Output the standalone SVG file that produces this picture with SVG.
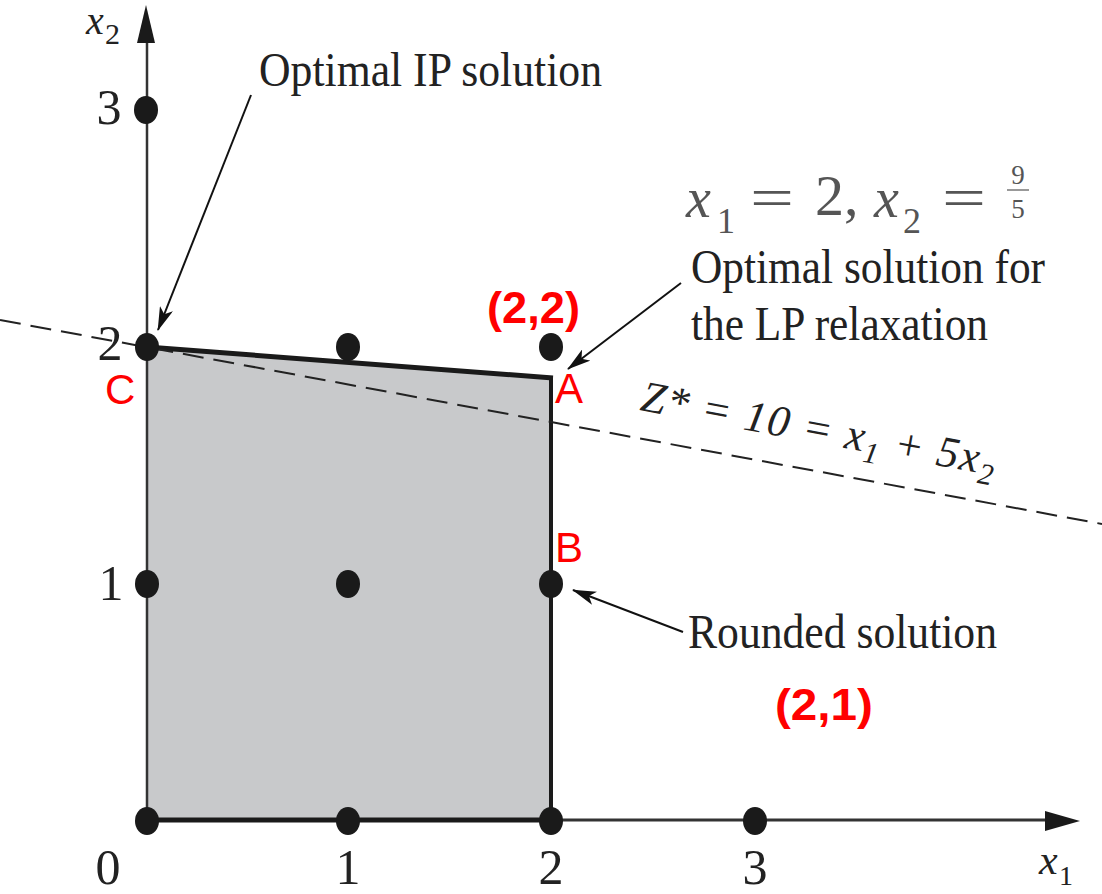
<svg xmlns="http://www.w3.org/2000/svg" width="1102" height="894" viewBox="0 0 1102 894">
<style>
.serif{font-family:"Liberation Serif","Times New Roman",serif;fill:#222}
.it{font-style:italic}
.tick{font-size:50px;text-anchor:middle}
.lbl{font-size:48px}
.gray{fill:#555}
.red{font-family:"Liberation Sans",Arial,sans-serif;fill:#ff0000;font-size:42px}
.redb{font-family:"Liberation Sans",Arial,sans-serif;fill:#ff0000;font-weight:bold;font-size:44px}
.dot{fill:#1a1a1a}
.edge{stroke:#1a1a1a;fill:none}
.arrow{stroke:#111;stroke-width:2;fill:none;marker-end:url(#ah)}
</style>
<defs>
<marker id="ah" viewBox="0 0 24 14" markerWidth="24" markerHeight="14" refX="23" refY="7" orient="auto" markerUnits="userSpaceOnUse">
<path d="M0,0 L24,7 L0,14 L6,7 Z" fill="#111"/>
</marker>
</defs>
<rect width="1102" height="894" fill="#fff"/>

<g id="feasible-region">
<polygon points="147,347 551,378 551,820 147,820" fill="#c8c9cb"/>
<line class="edge" x1="147" y1="347" x2="553" y2="378" stroke-width="5"/>
<line class="edge" x1="551" y1="376" x2="551" y2="820" stroke-width="4"/>
</g>

<g id="axes">
<line x1="147" y1="40" x2="147" y2="820" stroke="#333" stroke-width="2.5"/>
<polygon points="146,5 137,43 155,43" fill="#1a1a1a"/>
<line x1="147" y1="820" x2="1048" y2="820" stroke="#333" stroke-width="3"/>
<line x1="147" y1="820" x2="551" y2="820" stroke="#1a1a1a" stroke-width="5"/>
<polygon points="1080,821 1045,811 1045,831" fill="#1a1a1a"/>
<text class="serif it" x="86" y="34" font-size="40">x</text>
<text class="serif" x="105" y="44" font-size="30">2</text>
<text class="serif it" x="1039" y="874" font-size="42">x</text>
<text class="serif" x="1059" y="885" font-size="28">1</text>
</g>

<g id="ticks">
<text class="serif tick" x="109" y="124">3</text>
<text class="serif tick" x="110" y="360">2</text>
<text class="serif tick" x="111" y="600">1</text>
<text class="serif tick" x="108" y="884">0</text>
<text class="serif tick" x="348" y="884">1</text>
<text class="serif tick" x="551" y="884">2</text>
<text class="serif tick" x="755" y="884">3</text>
</g>

<g id="objective-line">
<line x1="0" y1="320" x2="1102" y2="524" stroke="#222" stroke-width="2" stroke-dasharray="21 10"/>
<text class="serif it" transform="translate(639,410) rotate(10.5)" font-size="44" textLength="360" lengthAdjust="spacing">Z* = 10 = x<tspan font-size="30" dy="10">1</tspan><tspan dy="-10"> + 5x</tspan><tspan font-size="30" dy="10">2</tspan></text>
</g>

<g id="lattice-points">
<ellipse class="dot" cx="146" cy="110" rx="12" ry="14"/>
<ellipse class="dot" cx="147" cy="347" rx="12" ry="14"/>
<ellipse class="dot" cx="348" cy="347" rx="12" ry="14"/>
<ellipse class="dot" cx="551" cy="347" rx="12" ry="14"/>
<ellipse class="dot" cx="147" cy="584" rx="12" ry="14"/>
<ellipse class="dot" cx="348" cy="584" rx="12" ry="14"/>
<ellipse class="dot" cx="551" cy="584" rx="12" ry="14"/>
<ellipse class="dot" cx="147" cy="821" rx="12" ry="14"/>
<ellipse class="dot" cx="348" cy="821" rx="12" ry="14"/>
<ellipse class="dot" cx="551" cy="821" rx="12" ry="14"/>
<ellipse class="dot" cx="755" cy="821" rx="12" ry="14"/>
</g>

<g id="label-ip">
<text class="serif lbl" x="259" y="86" textLength="343" lengthAdjust="spacingAndGlyphs">Optimal IP solution</text>
</g>

<g id="label-lp">
<text class="serif lbl" x="691" y="283" textLength="354" lengthAdjust="spacingAndGlyphs">Optimal solution for</text>
<text class="serif lbl" x="691" y="340" textLength="297" lengthAdjust="spacingAndGlyphs">the LP relaxation</text>
</g>

<g id="label-lp-value">
<text class="serif it gray" x="686" y="217" font-size="56">x</text>
<text class="serif gray" x="717" y="233" font-size="36">1</text>
<text class="serif gray" x="750" y="217" font-size="56" textLength="44" lengthAdjust="spacingAndGlyphs">=</text>
<text class="serif gray" x="815" y="215" font-size="58">2,</text>
<text class="serif it gray" x="874" y="217" font-size="56">x</text>
<text class="serif gray" x="903" y="233" font-size="36">2</text>
<text class="serif gray" x="942" y="217" font-size="56" textLength="44" lengthAdjust="spacingAndGlyphs">=</text>
<text class="serif gray" x="1018" y="184" font-size="27" text-anchor="middle">9</text>
<line x1="1007" y1="190" x2="1029" y2="190" stroke="#777" stroke-width="1.5"/>
<text class="serif gray" x="1018" y="218" font-size="27" text-anchor="middle">5</text>
</g>

<g id="label-rounded">
<text class="serif lbl" x="688" y="648" textLength="309" lengthAdjust="spacingAndGlyphs">Rounded solution</text>
</g>

<g id="point-labels">
<text class="red" x="105" y="404">C</text>
<text class="red" x="555" y="403">A</text>
<text class="red" x="555" y="562">B</text>
<text class="redb" x="487" y="323" textLength="93" lengthAdjust="spacingAndGlyphs">(2,2)</text>
<text class="redb" x="775" y="720" textLength="98" lengthAdjust="spacingAndGlyphs">(2,1)</text>
</g>

<g id="connectors">
<line class="arrow" x1="251" y1="95" x2="158" y2="330"/>
<line class="arrow" x1="681" y1="283" x2="568" y2="369"/>
<line class="arrow" x1="683" y1="632" x2="573" y2="590"/>
</g>
</svg>
